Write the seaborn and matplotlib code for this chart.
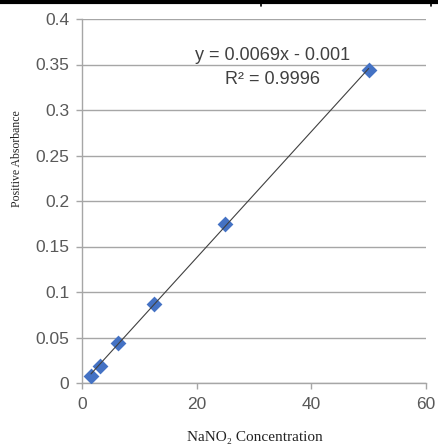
import matplotlib
matplotlib.use("Agg")
import matplotlib.pyplot as plt
import seaborn as sns
import pandas as pd
from matplotlib.lines import Line2D

concentration = [1.5625, 3.125, 6.25, 12.5, 25, 50]
absorbance = [0.008, 0.019, 0.044, 0.087, 0.175, 0.344]
y_ticks = [0, 0.05, 0.1, 0.15, 0.2, 0.25, 0.3, 0.35, 0.4]
y_tick_labels = ["0", "0.05", "0.1", "0.15", "0.2", "0.25", "0.3", "0.35", "0.4"]
x_ticks = [0, 20, 40, 60]
x_tick_labels = ["0", "20", "40", "60"]
equation_text = "y = 0.0069x - 0.001"
r2_text = "R² = 0.9996"
x_label = "NaNO₂ Concentration"
y_label = "Positive Absorbance"

df = pd.DataFrame({"conc": concentration, "abs": absorbance})

sns.set_style("white")
plt.rcParams["font.family"] = ["Liberation Sans", "DejaVu Sans"]

W, H = 439, 446
fig = plt.figure(figsize=(W / 100, H / 100), dpi=100)
ax = fig.add_axes([82 / W, 1 - 383 / H, (426 - 82) / W, (383 - 19) / H])

sns.scatterplot(data=df, x="conc", y="abs", marker="D", s=65, color="#4472C4",
                edgecolor="#4472C4", linewidth=0, ax=ax, zorder=3)
sns.regplot(data=df, x="conc", y="abs", scatter=False, ci=None, truncate=True,
            line_kws={"color": "#404040", "lw": 0.8, "zorder": 4}, ax=ax)

ax.set_xlim(0, 60)
ax.set_ylim(0, 0.4)
ax.set_xticks(x_ticks)
ax.set_xticklabels(x_tick_labels)
ax.set_yticks(y_ticks)
ax.set_yticklabels(y_tick_labels)
ax.yaxis.grid(True, color="#a6a6a6", lw=1.0)
ax.xaxis.grid(False)
ax.set_axisbelow(True)

for side in ["top", "right"]:
    ax.spines[side].set_visible(False)
for side in ["left", "bottom"]:
    ax.spines[side].set_visible(True)
    ax.spines[side].set_color("#a6a6a6")
    ax.spines[side].set_linewidth(1.0)

ax.tick_params(axis="both", which="major", direction="out", length=4, width=1.0,
               color="#a6a6a6", labelcolor="#595959", labelsize=12.5)
ax.tick_params(axis="y", pad=5)
ax.tick_params(axis="x", pad=6)
ax.tick_params(left=True, bottom=True)

ax.set_xlabel(x_label, family=["Liberation Serif", "DejaVu Serif"], fontsize=11, color="#222222")
ax.set_ylabel(y_label, family=["Liberation Serif", "DejaVu Serif"], fontsize=8.5, color="#222222")
ax.xaxis.set_label_coords((255 - 82) / 344, (383 - 437) / 364)
ax.xaxis.label.set_verticalalignment("center")
ax.yaxis.set_label_coords((17 - 82) / 344, (383 - 159) / 364)
ax.yaxis.label.set_verticalalignment("center")

ax.text((273 - 82) / 344, (383 - 55) / 364, equation_text, transform=ax.transAxes,
        ha="center", va="center", fontsize=13, color="#404040")
ax.text((273 - 82) / 344, (383 - 80) / 364, r2_text, transform=ax.transAxes,
        ha="center", va="center", fontsize=13, color="#404040")

# top table border
fig.add_artist(Line2D([0, 1], [1 - 2 / H, 1 - 2 / H], transform=fig.transFigure,
                      color="black", lw=3.0))
for px in [261, 431]:
    fig.add_artist(Line2D([px / W, px / W], [1, 1 - 6 / H], transform=fig.transFigure,
                          color="black", lw=1.2))

fig.savefig("out.png", dpi=100)
